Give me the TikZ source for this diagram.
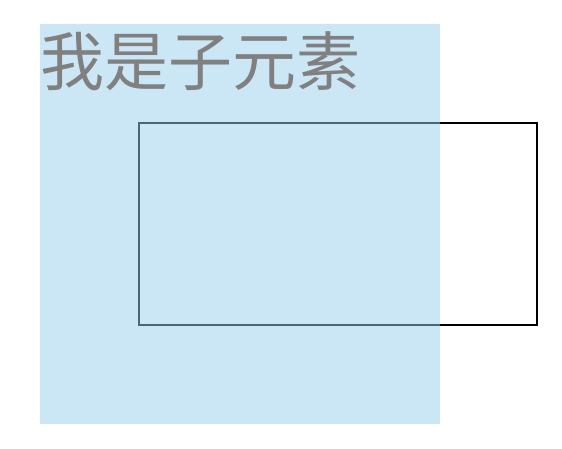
\documentclass[tikz,border=0pt]{standalone}
\usepackage{fontspec}
\newfontfamily\cjk{Noto Sans CJK SC}
\definecolor{boxblue}{RGB}{151,205,235}
\definecolor{textgray}{RGB}{128,128,128}
\begin{document}
\begin{tikzpicture}[x=1pt,y=-1pt,
  outline/.style={draw=black,line width=2pt},
  childbox/.style={fill=boxblue,fill opacity=0.5},
  label/.style={font=\cjk\fontsize{64}{64}\selectfont,text=textgray,inner sep=0pt,anchor=base west}]
\useasboundingbox (0,0) rectangle (562,448);
\draw[outline] (139,123) rectangle (537,325);
\fill[childbox] (40,24) rectangle (440,424);
\node[label] (t) at (40,85.5) {我是子元素};
\end{tikzpicture}
\end{document}
